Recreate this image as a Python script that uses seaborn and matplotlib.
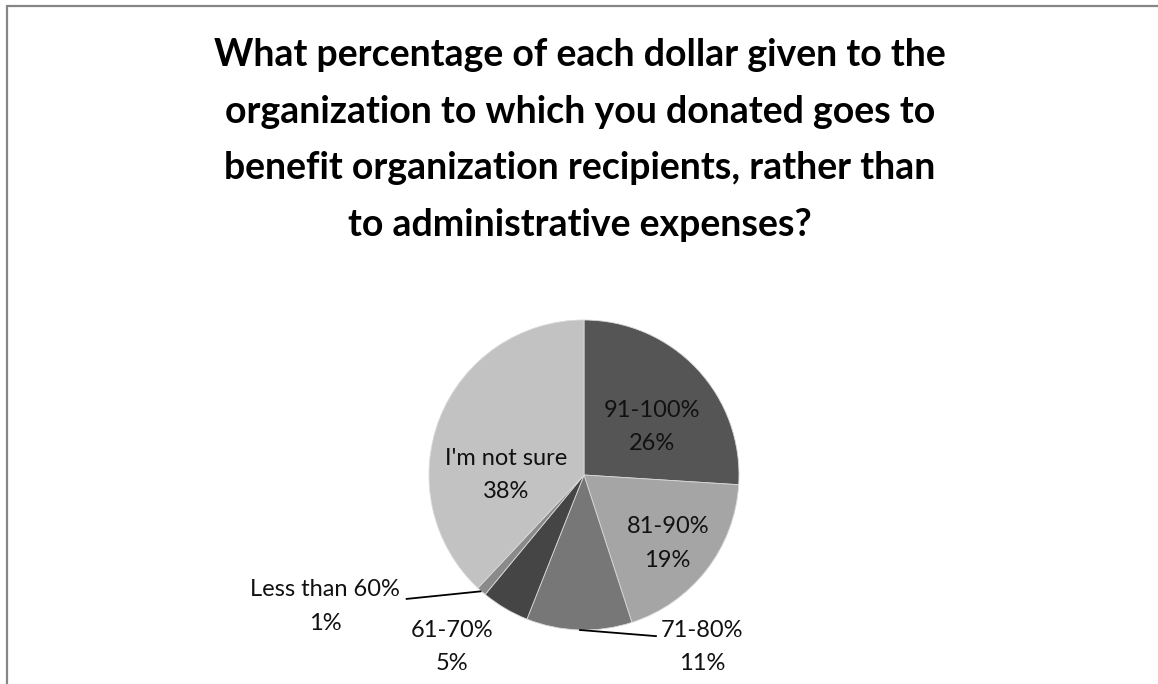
import numpy as np
import matplotlib
matplotlib.use("Agg")
import matplotlib.pyplot as plt
from matplotlib.lines import Line2D
import seaborn as sns

# Survey answers and their shares (percent)
categories = ["91-100%", "81-90%", "71-80%", "61-70%", "Less than 60%", "I'm not sure"]
shares = [26, 19, 11, 5, 1, 38]
slice_colors = ["#555555", "#a5a5a5", "#777777", "#454545", "#8a8a8a", "#c2c2c2"]

title = ("What percentage of each dollar given to the\n"
         "organization to which you donated goes to\n"
         "benefit organization recipients, rather than\n"
         "to administrative expenses?")

sns.set_theme(style="white")
plt.rcParams["font.family"] = ["Lato", "DejaVu Sans"]

W, H = 1158, 684
fig = plt.figure(figsize=(W / 100, H / 100), dpi=100)
ax = fig.add_axes([0, 0, 1, 1])

cx, cy, R = 584, H - 475, 155
wedges, _ = ax.pie(shares, colors=slice_colors, startangle=90, counterclock=False,
                   center=(cx, cy), radius=R, frame=False,
                   wedgeprops=dict(edgecolor="#d8d8d8", linewidth=0.6))
ax.set_xlim(0, W)
ax.set_ylim(0, H)
ax.set_aspect("auto")
ax.axis("off")

# label placement (in units of the radius, relative to the centre) and leader-line end
label_layout = {
    "91-100%": ((0.44, 0.31), None),
    "81-90%": ((0.54, -0.44), None),
    "71-80%": ((0.76, -1.11), (0.47, -1.04)),
    "61-70%": ((-0.85, -1.11), None),
    "Less than 60%": ((-1.67, -0.85), (-1.15, -0.80)),
    "I'm not sure": ((-0.50, 0.0), None),
}

for w, cat, val in zip(wedges, categories, shares):
    (fx, fy), leader = label_layout[cat]
    tx, ty = cx + fx * R, cy + fy * R
    ax.text(tx, ty, f"{cat}\n{val}%", ha="center", va="center", fontsize=17,
            color="#111111", linespacing=1.75)
    if leader is not None:
        mid = np.deg2rad((w.theta1 + w.theta2) / 2)
        px, py = cx + R * np.cos(mid), cy + R * np.sin(mid)
        ex, ey = cx + leader[0] * R, cy + leader[1] * R
        ax.plot([px, ex], [py, ey], color="black", lw=1.3, solid_capstyle="butt")

fig.text(580 / W, 1 - 140 / H, title, ha="center", va="center", fontsize=27,
         fontweight="bold", color="black", linespacing=1.82)

# chart-area border (top and left edges)
border = "#868686"
fig.add_artist(Line2D([7 / W, 1], [1 - 6 / H, 1 - 6 / H], color=border, lw=1.6,
                      transform=fig.transFigure))
fig.add_artist(Line2D([7 / W, 7 / W], [0, 1 - 6 / H], color=border, lw=1.6,
                      transform=fig.transFigure))

fig.savefig("out.png", dpi=100, facecolor="white")
